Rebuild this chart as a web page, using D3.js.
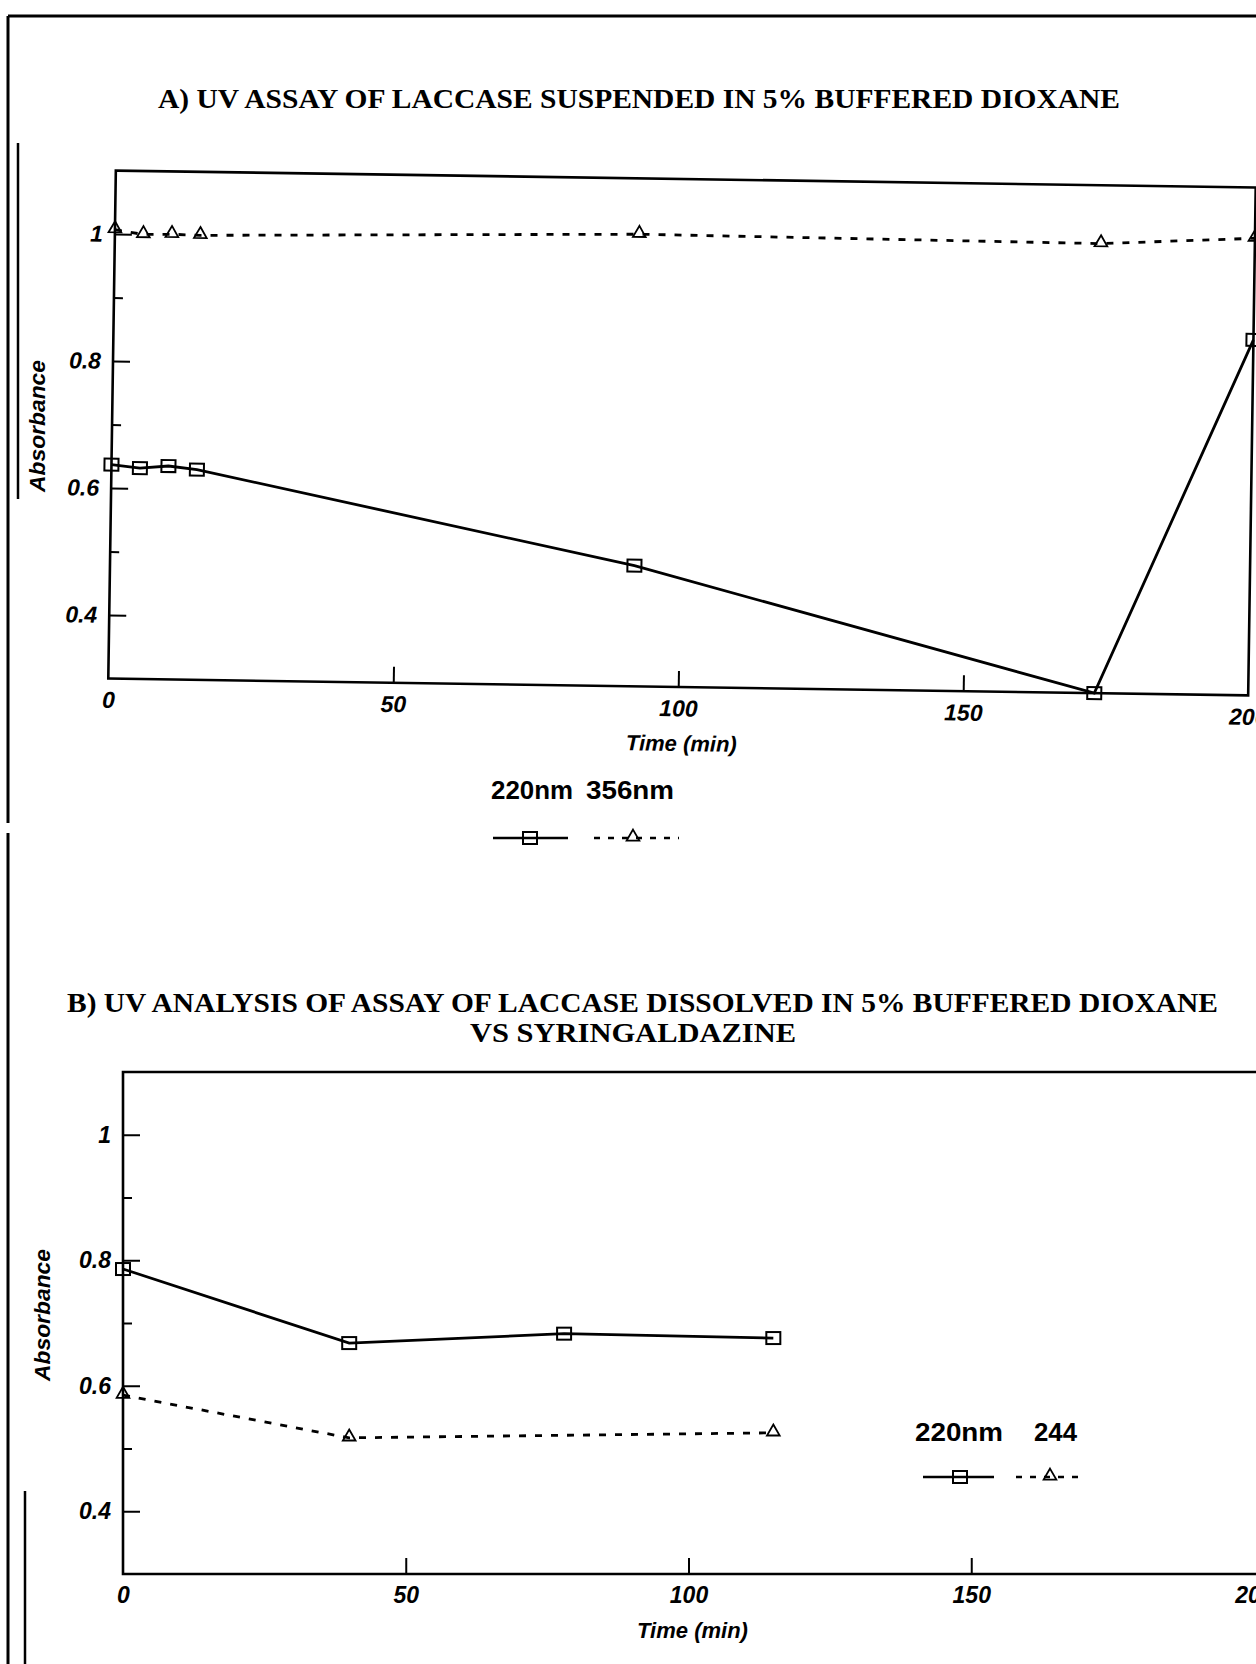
<!DOCTYPE html>
<html>
<head>
<meta charset="utf-8">
<script src="https://cdn.jsdelivr.net/npm/d3@7/dist/d3.min.js"></script>
<style>
	body { margin: 0; background: #fff; }
	svg { display: block; }
	.tick text { font-family: "Liberation Sans", Arial, sans-serif; font-weight: bold; font-style: italic; font-size: 23px; fill: #000; }
	.tick line { stroke: #000; stroke-width: 2; }
	.title { font-family: "Liberation Serif", "Times New Roman", serif; font-weight: bold; font-size: 28px; }
	.axis-label { font-family: "Liberation Sans", Arial, sans-serif; font-weight: bold; font-style: italic; font-size: 22px; }
	.legend { font-family: "Liberation Sans", Arial, sans-serif; font-weight: bold; font-size: 25px; }
</style>
</head>
<body>
<svg id="chart" width="1256" height="1664"></svg>
<script>
// Data, chart A (suspended)
const timesA = [0, 5, 10, 15, 92, 173, 200];
const absA220 = [0.637, 0.632, 0.636, 0.631, 0.49, 0.30, 0.86];
const absA356 = [1.007, 1.0, 1.001, 1.0, 1.012, 1.008, 1.02];

// Data, chart B (dissolved)
const timesB220 = [0, 40, 78, 115];
const absB220 = [0.786, 0.668, 0.683, 0.676];
const timesB244 = [0, 40, 115];
const absB244 = [0.585, 0.517, 0.525];

// Ticks
const xTicks = [0, 50, 100, 150, 200];
const yTicks = [0.4, 0.6, 0.8, 1];
const yMinor = [0.5, 0.7, 0.9];
const yLabels = ["0.4", "0.6", "0.8", "1"];

const svg = d3.select("#chart");

// Page border (scanned sheet edges)
svg.append("g")
	.attr("stroke", "#000")
	.attr("fill", "none")
	.selectAll("line")
	.data([
		[8, 16, 1256, 16, 3],
		[8, 16, 8, 823, 3],
		[8, 833, 8, 1664, 3],
		[18, 143, 18, 499, 2.5],
		[25, 1491, 25, 1664, 2.5]
	])
	.join("line")
	.attr("x1", d => d[0]).attr("y1", d => d[1])
	.attr("x2", d => d[2]).attr("y2", d => d[3])
	.attr("stroke-width", d => d[4]);

// Markers
function squares(g, x, y, xs, ys) {
	g.selectAll("rect.mk")
		.data(xs.map((t, i) => [t, ys[i]]))
		.join("rect")
		.attr("class", "mk")
		.attr("x", d => x(d[0]) - 7)
		.attr("y", d => y(d[1]) - 6)
		.attr("width", 14)
		.attr("height", 12)
		.attr("fill", "none")
		.attr("stroke", "#000")
		.attr("stroke-width", 2);
}

function triangles(g, x, y, xs, ys) {
	g.selectAll("path.mk")
		.data(xs.map((t, i) => [t, ys[i]]))
		.join("path")
		.attr("class", "mk")
		.attr("d", d3.symbol(d3.symbolTriangle, 70))
		.attr("transform", d => `translate(${x(d[0])},${y(d[1]) - 1})`)
		.attr("fill", "none")
		.attr("stroke", "#000")
		.attr("stroke-width", 1.8);
}

// One panel
function panel(opts) {
	const g = svg.append("g").attr("transform", opts.transform || null);
	const x = d3.scaleLinear().domain([0, 200]).range([opts.left, opts.right]);
	const y = d3.scaleLinear().domain([0.3, 1.1]).range([opts.bottom, opts.top]);

	// frame
	const frame = opts.closed
		? `M${opts.left},${opts.top}H${opts.right}V${opts.bottom}H${opts.left}Z`
		: `M1256,${opts.top}H${opts.left}V${opts.bottom}H1256`;
	g.append("path")
		.attr("d", frame)
		.attr("fill", "none")
		.attr("stroke", "#000")
		.attr("stroke-width", 2.6);

	// y axis, ticks pointing in
	g.append("g")
		.attr("transform", `translate(${opts.left},0)`)
		.call(d3.axisLeft(y).tickValues(yTicks)
			.tickFormat((d, i) => yLabels[i])
			.tickSizeInner(-17).tickSizeOuter(0).tickPadding(12))
		.call(a => a.select(".domain").remove());

	g.append("g")
		.attr("transform", `translate(${opts.left},0)`)
		.call(d3.axisLeft(y).tickValues(yMinor).tickFormat("")
			.tickSizeInner(-9).tickSizeOuter(0))
		.call(a => a.select(".domain").remove());

	// x axis
	g.append("g")
		.attr("transform", `translate(0,${opts.bottom})`)
		.call(d3.axisBottom(x).tickValues(xTicks)
			.tickSizeInner(-16).tickSizeOuter(0).tickPadding(13))
		.call(a => a.select(".domain").remove())
		.call(a => a.selectAll(".tick").filter(d => d === 0 || d === 200).select("line").remove());

	g.append("text")
		.attr("class", "axis-label")
		.attr("x", (opts.left + opts.right) / 2 + 4)
		.attr("y", opts.bottom + 64)
		.attr("text-anchor", "middle")
		.text("Time (min)");

	// series
	const line = d3.line().x(d => x(d[0])).y(d => y(d[1]));
	opts.series.forEach(s => {
		g.append("path")
			.datum(s.t.map((t, i) => [t, s.v[i]]))
			.attr("d", line)
			.attr("fill", "none")
			.attr("stroke", "#000")
			.attr("stroke-width", 2.8)
			.attr("stroke-dasharray", s.dashed ? "7,9" : null);
		(s.dashed ? triangles : squares)(g, x, y, s.t, s.v);
	});
	return g;
}

// Legend row
function legend(textY, symY, items) {
	const g = svg.append("g");
	items.forEach(it => {
		g.append("text")
			.attr("class", "legend")
			.attr("x", it.tx)
			.attr("y", textY)
			.attr("textLength", it.tw)
			.attr("lengthAdjust", "spacingAndGlyphs")
			.text(it.label);
		g.append("line")
			.attr("x1", it.x1).attr("x2", it.x2)
			.attr("y1", symY).attr("y2", symY)
			.attr("stroke", "#000")
			.attr("stroke-width", 2.5)
			.attr("stroke-dasharray", it.dashed ? "6,8" : null);
		const mx = d3.scaleLinear().domain([0, 1]).range([it.mx, it.mx]);
		const my = d3.scaleLinear().domain([0, 1]).range([symY, symY]);
		(it.dashed ? triangles : squares)(g, mx, my, [0], [0]);
	});
}

// Titles
svg.append("text")
	.attr("class", "title")
	.attr("x", 158).attr("y", 108)
	.attr("textLength", 962).attr("lengthAdjust", "spacingAndGlyphs")
	.text("A) UV ASSAY OF LACCASE SUSPENDED IN 5% BUFFERED DIOXANE");

svg.append("text")
	.attr("class", "title")
	.attr("x", 67).attr("y", 1012)
	.attr("textLength", 1151).attr("lengthAdjust", "spacingAndGlyphs")
	.text("B) UV ANALYSIS OF ASSAY OF LACCASE DISSOLVED IN 5% BUFFERED DIOXANE");

svg.append("text")
	.attr("class", "title")
	.attr("x", 470).attr("y", 1042)
	.attr("textLength", 326).attr("lengthAdjust", "spacingAndGlyphs")
	.text("VS SYRINGALDAZINE");

// Panel A, slightly skewed like the scan
panel({
	left: 112, right: 1252, top: 179, bottom: 687,
	closed: true,
	transform: "rotate(0.85, 682, 433)",
	series: [
		{ t: timesA, v: absA220, dashed: false },
		{ t: timesA, v: absA356, dashed: true }
	]
});

// Panel B
panel({
	left: 123, right: 1254, top: 1072, bottom: 1574,
	closed: false,
	series: [
		{ t: timesB220, v: absB220, dashed: false },
		{ t: timesB244, v: absB244, dashed: true }
	]
});

// Y titles
[[37, 426], [42, 1315]].forEach(p => {
	svg.append("text")
		.attr("class", "axis-label")
		.attr("transform", `translate(${p[0]},${p[1]}) rotate(-90)`)
		.attr("text-anchor", "middle")
		.attr("dy", "0.35em")
		.attr("textLength", 132)
		.attr("lengthAdjust", "spacingAndGlyphs")
		.text("Absorbance");
});

legend(799, 838, [
	{ label: "220nm", tx: 491, tw: 82, x1: 493, x2: 568, mx: 530, dashed: false },
	{ label: "356nm", tx: 586, tw: 88, x1: 594, x2: 679, mx: 633, dashed: true }
]);

legend(1441, 1477, [
	{ label: "220nm", tx: 915, tw: 88, x1: 923, x2: 994, mx: 960, dashed: false },
	{ label: "244", tx: 1034, tw: 43, x1: 1016, x2: 1082, mx: 1050, dashed: true }
]);
</script>
</body>
</html>
